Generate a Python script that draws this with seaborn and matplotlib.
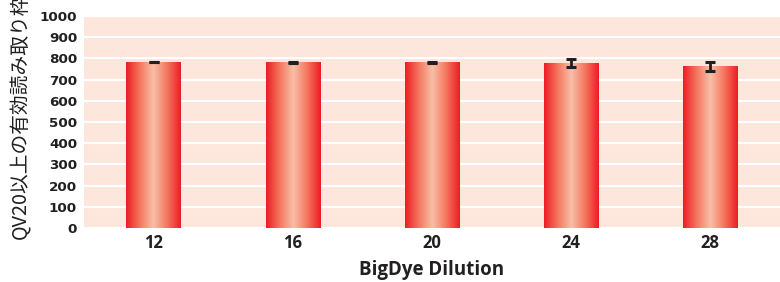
import numpy as np
import pandas as pd
import matplotlib
matplotlib.use("Agg")
import matplotlib.pyplot as plt
import seaborn as sns
from matplotlib.colors import LinearSegmentedColormap

# Data
dilutions = ["12", "16", "20", "24", "28"]
mean_orf = [783, 782, 782, 777, 762]
err_orf = [2, 2, 3, 19, 22]

ylabel_text = "QV20以上の有効読み取り枠"
xlabel_text = "BigDye Dilution"

df = pd.DataFrame({"dilution": dilutions, "orf": mean_orf})

sns.set_theme(style="whitegrid")
plt.rcParams["font.family"] = ["DejaVu Sans"]

fig = plt.figure(figsize=(7.8, 2.82), dpi=100)
ax = fig.add_axes([84 / 780, 1 - 228 / 282, 1 - 84 / 780, 212 / 282])

sns.barplot(data=df, x="dilution", y="orf", width=0.39, color="#ED1C24",
            errorbar=None, ax=ax, zorder=2)

# horizontal red -> light -> red gradient inside each bar
cmap = LinearSegmentedColormap.from_list(
    "bar_grad", ["#ED1C24", "#F4775E", "#F9BEA7", "#F4775E", "#ED1C24"])
grad = np.linspace(0, 1, 256).reshape(1, -1)
for p in ax.patches:
    x0, y0 = p.get_x(), p.get_y()
    w, h = p.get_width(), p.get_height()
    im = ax.imshow(grad, cmap=cmap, aspect="auto", zorder=3,
                   extent=[x0, x0 + w, y0, y0 + h], interpolation="bicubic")
    im.set_clip_path(p)
    p.set_edgecolor("none")

ax.errorbar(x=np.arange(len(dilutions)), y=mean_orf, yerr=err_orf, fmt="none",
            ecolor="#231F20", elinewidth=2, capsize=3.3, capthick=2.2, zorder=4)

ax.set_xlim(-0.5, len(dilutions) - 0.5)
ax.set_ylim(0, 1000)
ax.set_yticks(range(0, 1001, 100))
ax.set_facecolor("#FDE6DC")
ax.grid(axis="y", color="white", linewidth=1.6)
ax.grid(axis="x", visible=False)
ax.set_axisbelow(True)
for s in ax.spines.values():
    s.set_visible(False)
ax.tick_params(axis="both", length=0)
ax.tick_params(axis="y", pad=5)
ax.tick_params(axis="x", pad=4)

for lbl in ax.get_yticklabels():
    lbl.set_fontfamily("DejaVu Sans")
    lbl.set_fontweight("bold")
    lbl.set_fontsize(9.7)
    lbl.set_color("#231F20")
for lbl in ax.get_xticklabels():
    lbl.set_fontfamily("Open Sans")
    lbl.set_fontweight("bold")
    lbl.set_fontsize(12)
    lbl.set_color("#231F20")

ax.set_xlabel(xlabel_text, fontfamily="Open Sans", fontweight="bold",
              fontsize=13.5, color="#231F20", labelpad=6)
ax.set_ylabel("")
fig.text(21 / 780, 1 - 239 / 282, ylabel_text, rotation=90, ha="center",
         va="bottom", fontsize=14.2, color="#231F20",
         family=["Noto Sans CJK JP", "DejaVu Sans"])

fig.savefig("out.png", dpi=100)
